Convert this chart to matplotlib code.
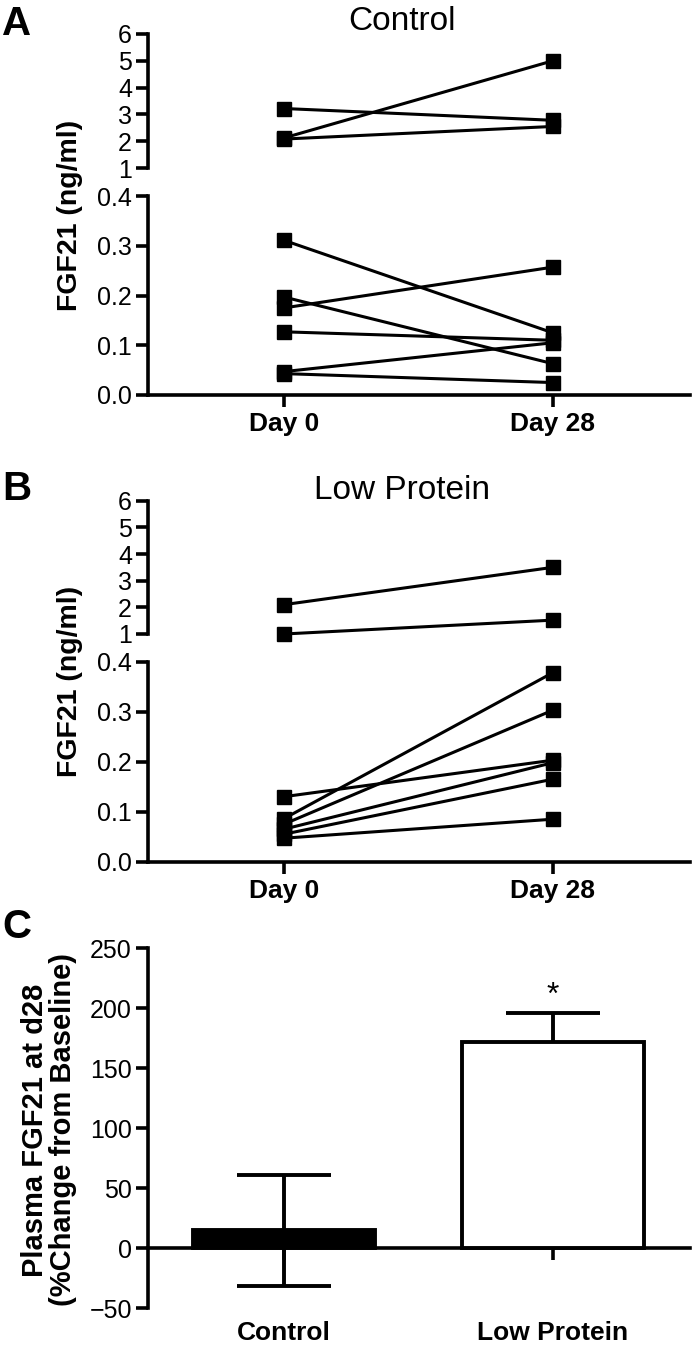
import numpy as np
import matplotlib
matplotlib.use('Agg')
import matplotlib.pyplot as plt

plt.rcParams['font.family'] = ['Liberation Sans', 'DejaVu Sans']

# 数据
days = ['Day 0', 'Day 28']
# A: Control
ctrl_hi_d0 = [3.22, 2.12, 2.08]
ctrl_hi_d28 = [2.78, 5.0, 2.55]
ctrl_lo_d0 = [0.311, 0.175, 0.197, 0.127, 0.047, 0.043]
ctrl_lo_d28 = [0.125, 0.257, 0.063, 0.110, 0.105, 0.025]
# B: Low Protein
lp_hi_d0 = [2.1, 1.0]
lp_hi_d28 = [3.5, 1.52]
lp_lo_d0 = [0.13, 0.086, 0.075, 0.065, 0.055, 0.047]
lp_lo_d28 = [0.203, 0.378, 0.303, 0.198, 0.165, 0.085]
# C: % change
groups = ['Control', 'Low Protein']
pct_mean = [15.0, 171.7]
pct_sem = [46.5, 24.7]
bar_colors = ['black', 'white']

W, H = 700, 1357
fig = plt.figure(figsize=(W / 100, H / 100), dpi=100)


def box(x0, ytop, x1, ybot):
    return [x0 / W, 1 - ybot / H, (x1 - x0) / W, (ybot - ytop) / H]


XL = (-0.505, 1.51)
LW = 2.6


def style_axis(ax):
    for s in ax.spines.values():
        s.set_linewidth(LW)
    ax.spines['top'].set_visible(False)
    ax.spines['right'].set_visible(False)
    ax.tick_params(direction='out', length=8.6, width=LW, labelsize=18, pad=3)


def broken_panel(top_box, bot_box, hi0, hi28, lo0, lo28, title, letter, title_y, letter_y, ylab_y):
    axt = fig.add_axes(box(*top_box))
    axb = fig.add_axes(box(*bot_box))
    for ax in (axt, axb):
        style_axis(ax)
        ax.set_xlim(*XL)
    axt.spines['bottom'].set_visible(False)
    axt.set_ylim(1, 6)
    axt.set_yticks([1, 2, 3, 4, 5, 6])
    axt.set_xticks([])
    axt.set_yticks([1], minor=True)
    axt.tick_params(axis='y', which='minor', direction='in', length=5, width=LW)
    axb.set_ylim(0, 0.4)
    axb.set_yticks([0, 0.1, 0.2, 0.3, 0.4])
    axb.set_yticklabels(['%.1f' % v for v in [0, 0.1, 0.2, 0.3, 0.4]])
    axb.set_yticks([0.4], minor=True)
    axb.tick_params(axis='y', which='minor', direction='in', length=5, width=LW)
    axb.set_xticks([0, 1])
    axb.set_xticklabels(days, fontsize=19, fontweight='bold')
    axb.tick_params(axis='x', pad=4)
    for a, b in zip(hi0, hi28):
        axt.plot([0, 1], [a, b], color='black', lw=2.2, marker='s', ms=10.5, clip_on=False)
    for a, b in zip(lo0, lo28):
        axb.plot([0, 1], [a, b], color='black', lw=2.2, marker='s', ms=10.5, clip_on=False)
    fig.text(402 / W, 1 - title_y / H, title, ha='center', va='center', fontsize=24)
    fig.text(17 / W, 1 - letter_y / H, letter, ha='center', va='center', fontsize=29, fontweight='bold')
    fig.text(70 / W, 1 - ylab_y / H, 'FGF21 (ng/ml)', ha='center', va='center', rotation=90,
             fontsize=20.5, fontweight='bold')


broken_panel((148, 34, 690, 168), (148, 196, 690, 395),
             ctrl_hi_d0, ctrl_hi_d28, ctrl_lo_d0, ctrl_lo_d28, 'Control', 'A', 21, 24, 215)
broken_panel((148, 500.7, 690, 634), (148, 661.7, 690, 861.7),
             lp_hi_d0, lp_hi_d28, lp_lo_d0, lp_lo_d28, 'Low Protein', 'B', 491, 489, 681)

# C
axc = fig.add_axes(box(148, 948.3, 690, 1308.3))
style_axis(axc)
axc.set_xlim(*XL)
axc.set_ylim(-50, 250)
axc.set_yticks(np.arange(-50, 251, 50))
axc.spines['bottom'].set_position(('data', 0))
x = np.arange(len(groups))
axc.bar(x, pct_mean, width=0.675, color=bar_colors, edgecolor='black', linewidth=2.8, zorder=3)
axc.errorbar(x, pct_mean, yerr=pct_sem, fmt='none', ecolor='black',
             elinewidth=2.8, capsize=33.5, capthick=2.8, zorder=2)
axc.set_xticks(x)
axc.set_xticklabels(groups, fontsize=19, fontweight='bold')
axc.tick_params(axis='x', pad=44)
axc.annotate('*', xy=(1, pct_mean[1] + pct_sem[1]), xytext=(0, 1.5), textcoords='offset points',
             ha='center', va='bottom', fontsize=23)
fig.text(17 / W, 1 - 927 / H, 'C', ha='center', va='center', fontsize=29, fontweight='bold')
fig.text(49 / W, 1 - 1130 / H, 'Plasma FGF21 at d28\n(%Change from Baseline)', ha='center',
         va='center', rotation=90, fontsize=21, fontweight='bold', linespacing=1.0)

fig.savefig('out.png', dpi=100)
